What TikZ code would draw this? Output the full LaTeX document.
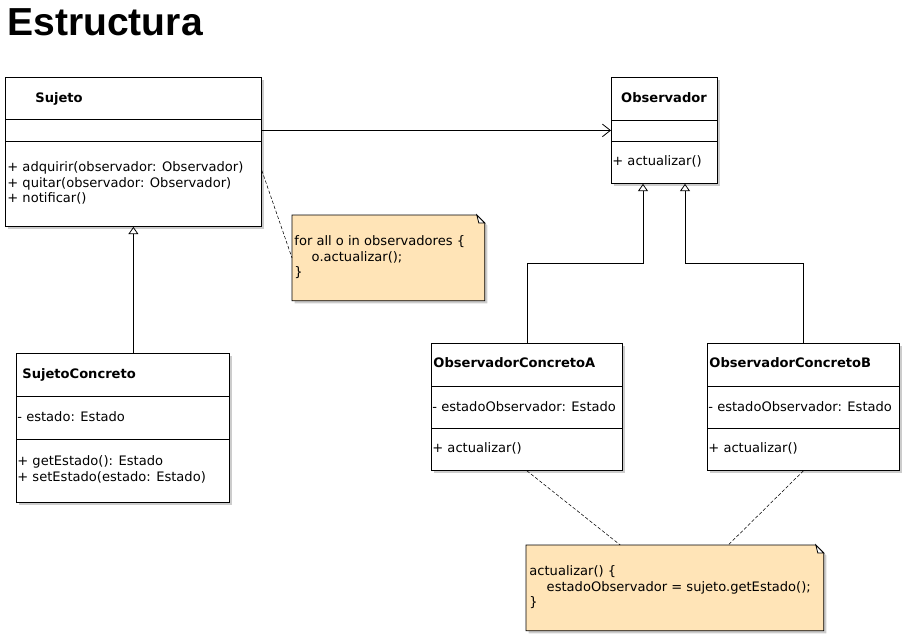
\documentclass[tikz,border=0pt]{standalone}
\usepackage{fontspec}
\setmainfont{DejaVu Sans}
\newfontfamily\headfont{Liberation Sans}
\usetikzlibrary{arrows.meta, positioning, shadows}
\definecolor{notefill}{RGB}{255,228,183}

\begin{document}
\begin{tikzpicture}[
  x=0.75pt, y=-0.75pt,
  font=\fontsize{9.8pt}{11.5pt}\selectfont,
  semithick,
  umlbox/.style={draw, fill=white, anchor=north west, inner sep=0pt,
    drop shadow={shadow xshift=2pt, shadow yshift=-2pt, fill=black!40, opacity=0.5}},
  notebox/.style={anchor=north west, inner sep=0pt},
  notebody/.style={draw, fill=notefill,
    drop shadow={shadow xshift=2pt, shadow yshift=-2pt, fill=black!40, opacity=0.5}},
  member/.style={anchor=base west, inner sep=0pt, align=left},
  classname/.style={anchor=base west, inner sep=0pt, font=\fontsize{9.8pt}{11.5pt}\selectfont\bfseries},
  assoc/.style={-{Straight Barb[length=6pt, width=9.5pt]}},
  inherit/.style={-{Triangle[open, length=5.5pt, width=7.5pt, fill=white]}},
  notelink/.style={thin, dash pattern=on 2.5pt off 1.5pt}
]
\useasboundingbox (0,0) rectangle (903,636);

\node[anchor=base west, inner sep=0pt, font=\headfont\bfseries\fontsize{29.3pt}{31pt}\selectfont] (title) at (7,35) {Estructura};

% Sujeto
\node[umlbox, minimum width=192pt, minimum height=111.75pt] (sujeto) at (5,77) {};
\node[classname] (sujetoname) at (35,102) {Sujeto};
\draw (sujeto.west |- 0,119) -- (sujeto.east |- 0,119);
\draw (sujeto.west |- 0,141) -- (sujeto.east |- 0,141);
\node[member] (sujetoops) at (7,202.5) {+ adquirir(observador: Observador)\\+ quitar(observador: Observador)\\+ notificar()};

% Observador
\node[umlbox, minimum width=79.5pt, minimum height=79.5pt] (obs) at (611,77) {};
\node[anchor=base, inner sep=0pt, font=\fontsize{9.8pt}{11.5pt}\selectfont\bfseries] (obsname) at (664,102) {Observador};
\draw (obs.west |- 0,120) -- (obs.east |- 0,120);
\draw (obs.west |- 0,141) -- (obs.east |- 0,141);
\node[member] (obsops) at (612,165) {+ actualizar()};

% SujetoConcreto
\node[umlbox, minimum width=159.75pt, minimum height=111.75pt] (sjc) at (16,353) {};
\node[classname] (sjcname) at (22,378) {SujetoConcreto};
\draw (sjc.west |- 0,396) -- (sjc.east |- 0,396);
\draw (sjc.west |- 0,439) -- (sjc.east |- 0,439);
\node[member] (sjcattr) at (17,421.5) {- estado: Estado};
\node[member] (sjcops) at (17,481) {+ getEstado(): Estado\\+ setEstado(estado: Estado)};

% ObservadorConcretoA
\node[umlbox, minimum width=143.25pt, minimum height=95.25pt] (obsA) at (431,343) {};
\node[classname] (obsAname) at (433,367) {ObservadorConcretoA};
\draw (obsA.west |- 0,386) -- (obsA.east |- 0,386);
\draw (obsA.west |- 0,428) -- (obsA.east |- 0,428);
\node[member] (obsAattr) at (432,411) {- estadoObservador: Estado};
\node[member] (obsAops) at (432,452.5) {+ actualizar()};

% ObservadorConcretoB
\node[umlbox, minimum width=144pt, minimum height=95.25pt] (obsB) at (707,343) {};
\node[classname] (obsBname) at (709,367) {ObservadorConcretoB};
\draw (obsB.west |- 0,386) -- (obsB.east |- 0,386);
\draw (obsB.west |- 0,428) -- (obsB.east |- 0,428);
\node[member] (obsBattr) at (708,411) {- estadoObservador: Estado};
\node[member] (obsBops) at (708,452.5) {+ actualizar()};

% notes
\node[notebox, minimum width=144pt, minimum height=63.75pt] (note1) at (292,215) {};
\draw[notebody] (note1.north west) -- ([xshift=-6pt]note1.north east) -- ([yshift=-6pt]note1.north east)
  -- (note1.south east) -- (note1.south west) -- cycle;
\draw[fill=white] ([xshift=-6pt]note1.north east) -- ([xshift=-4.5pt, yshift=-6pt]note1.north east)
  -- ([yshift=-6pt]note1.north east) -- cycle;
\node[member] (note1text) at (294,276.5) {for all o in observadores \{\\\hspace*{13pt}o.actualizar();\\\}};

\node[notebox, minimum width=222.75pt, minimum height=63.75pt] (note2) at (526,545) {};
\draw[notebody] (note2.north west) -- ([xshift=-6pt]note2.north east) -- ([yshift=-6pt]note2.north east)
  -- (note2.south east) -- (note2.south west) -- cycle;
\draw[fill=white] ([xshift=-6pt]note2.north east) -- ([xshift=-4.5pt, yshift=-6pt]note2.north east)
  -- ([yshift=-6pt]note2.north east) -- cycle;
\node[member] (note2text) at (529,606.5) {actualizar() \{\\\hspace*{13pt}estadoObservador = sujeto.getEstado();\\\}};

% connectors
\coordinate (jA) at (643,263);
\coordinate (jB) at (685,263);
\draw[assoc] (sujeto.east |- obs.west) -- (obs.west);
\draw[inherit] (sjc.north -| sujeto.south) -- (sujeto.south);
\draw[inherit] (obsA.north) |- (jA) -- (jA |- obs.south);
\draw[inherit] (obsB.north) |- (jB) -- (jB |- obs.south);
\draw[notelink] ([yshift=-13.9pt]sujeto.east) -- (note1.west);
\draw[notelink] (obsA.south) -- ([xshift=-41pt]note2.north);
\draw[notelink] (obsB.south) -- ([xshift=40pt]note2.north);
\end{tikzpicture}
\end{document}
